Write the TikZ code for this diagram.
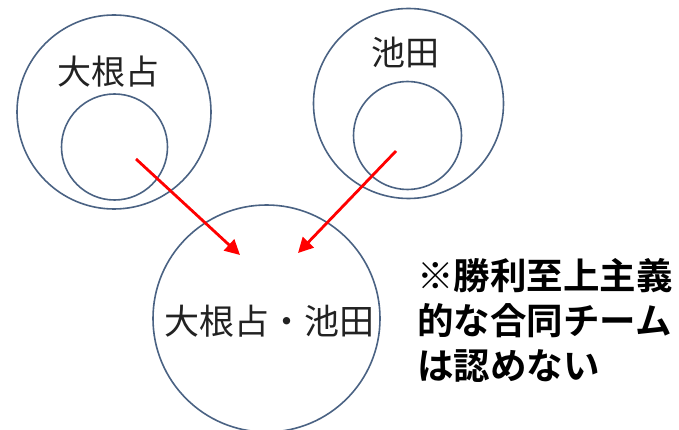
\documentclass[tikz,border=0pt]{standalone}
\usepackage{fontspec}
\newfontfamily\jp{Noto Sans CJK JP}
\newfontfamily\jpb{Noto Sans CJK JP Bold}
\usetikzlibrary{arrows.meta}
\definecolor{ring}{HTML}{4A6283}
\definecolor{txt}{HTML}{222222}
\tikzset{
  ringc/.style={circle, draw=ring, line width=1.6pt, inner sep=0pt, minimum size=#1},
  lbl/.style={font=\jp\fontsize{34}{40}\selectfont, text=txt, inner sep=0pt},
  redarrow/.style={draw=red, line width=2.8pt, -{Triangle[length=15pt,width=15pt]}},
  note/.style={font=\jpb\fontsize{36.5}{45}\selectfont, text=black, inner sep=0pt, align=left, anchor=north west}
}
\begin{document}
\begin{tikzpicture}[x=1pt,y=-1pt]
\useasboundingbox (0,0) rectangle (679,430);
\node[ringc=194pt] (Lout) at (114,112) {};
\node[ringc=106pt] (Lin) at (114.5,147) {};
\node[ringc=190pt] (Rout) at (408.5,103.5) {};
\node[ringc=108pt] (Rin) at (407.5,135.5) {};
\node[ringc=227pt] (B) at (266.5,318.5) {};
\node[lbl] (Lt) at (108,72) {大根占};
\node[lbl] (Rt) at (405,52) {池田};
\node[lbl, font=\jp\fontsize{35}{40}\selectfont] (Bt) at (269,321) {大根占・池田};
\coordinate (ls) at (136,159);
\coordinate (le) at (240,255);
\coordinate (rs) at (396,151);
\coordinate (re) at (298,253);
\draw[redarrow] (ls) -- (le);
\draw[redarrow] (rs) -- (re);
\node[note] (N) at (417,258) {※勝利至上主義\\的な合同チーム\\は認めない};
\end{tikzpicture}
\end{document}
